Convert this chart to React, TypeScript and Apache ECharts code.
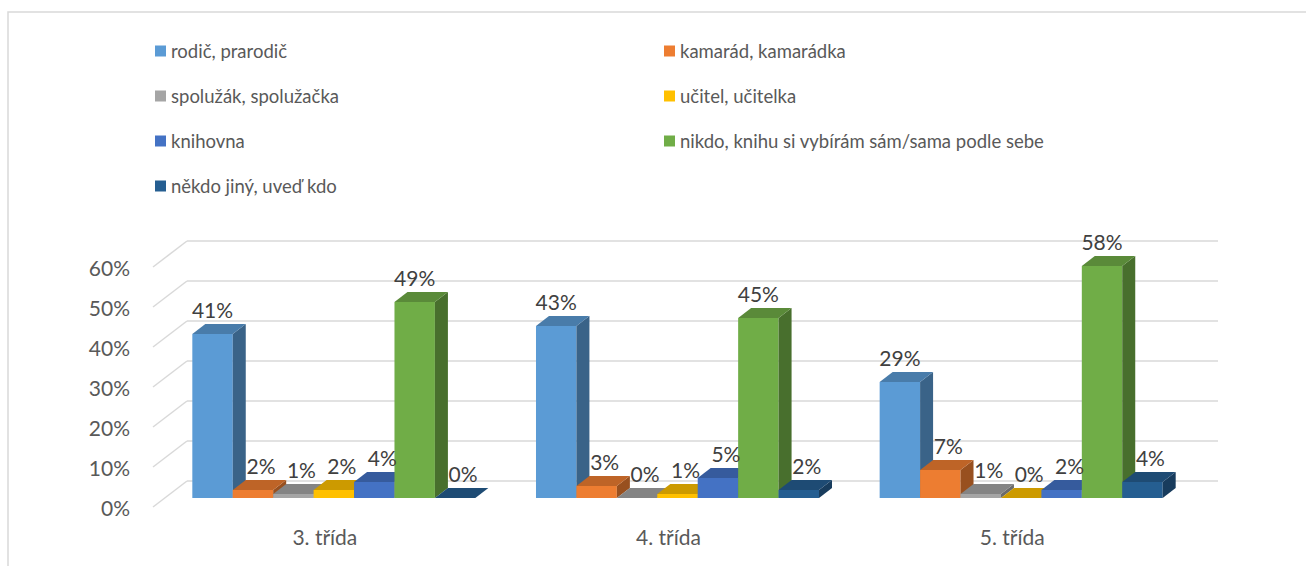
import React, { useEffect, useRef } from "react";
import * as echarts from "echarts";

const categories = ["3. třída", "4. třída", "5. třída"];
const seriesNames = [
  "rodič, prarodič",
  "kamarád, kamarádka",
  "spolužák, spolužačka",
  "učitel, učitelka",
  "knihovna",
  "nikdo, knihu si vybírám sám/sama podle sebe",
  "někdo jiný, uveď kdo",
];
const rodic = [41, 43, 29];
const kamarad = [2, 3, 7];
const spoluzak = [1, 0, 1];
const ucitel = [2, 1, 0];
const knihovna = [4, 5, 2];
const nikdo = [49, 45, 58];
const nekdo = [0, 2, 4];
const yTicks = [0, 10, 20, 30, 40, 50, 60];

const seriesValues = [rodic, kamarad, spoluzak, ucitel, knihovna, nikdo, nekdo];
const colors = ["#5B9BD5", "#ED7D31", "#A5A5A5", "#FFC000", "#4472C4", "#70AD47", "#255E91"];

const FONT = "Lato, 'Open Sans', sans-serif";
const DX = 34; // wall depth x
const DY = 26; // wall depth y
const FX = 9; // bar front face offset x
const FY = 9; // bar front face offset y
const BX = 13; // bar depth x
const BY = 10; // bar depth y
const GRID_COLOR = "#d9d9d9";

function shade(hex: string, f: number) {
  const n = parseInt(hex.slice(1), 16);
  const r = Math.round(((n >> 16) & 255) * f);
  const g = Math.round(((n >> 8) & 255) * f);
  const b = Math.round((n & 255) * f);
  return `rgb(${r},${g},${b})`;
}

export default function App() {
  const ref = useRef<HTMLDivElement>(null);

  useEffect(() => {
    if (!ref.current) return;
    const chart = echarts.init(ref.current, undefined, { renderer: "svg" });

    const wallSeries: any = {
      type: "custom",
      name: "walls",
      silent: true,
      z: 1,
      data: yTicks.map((v) => [0, v]),
      renderItem: (params: any, api: any) => {
        const v = api.value(1);
        const p = api.coord([0, v]);
        const cs = params.coordSys;
        const y = p[1];
        return {
          type: "group",
          children: [
            {
              type: "line",
              shape: { x1: cs.x, y1: y, x2: cs.x + DX, y2: y - DY },
              style: { stroke: GRID_COLOR, lineWidth: 1.5 },
            },
            {
              type: "line",
              shape: { x1: cs.x + DX, y1: y - DY, x2: cs.x + cs.width + DX, y2: y - DY },
              style: { stroke: GRID_COLOR, lineWidth: 1.5 },
            },
          ],
        };
      },
    };

    const barSeries = seriesNames.map((name, s) => ({
      type: "custom",
      name,
      z: 2,
      itemStyle: { color: colors[s] },
      data: seriesValues[s].map((v, i) => [i, v]),
      renderItem: (params: any, api: any) => {
        const cat = api.value(0);
        const v = api.value(1);
        const base = api.coord([cat, 0]);
        const topP = api.coord([cat, v]);
        const band = api.size([1, 0])[0];
        const w = band / 8.5;
        const x0 = base[0] - 3.5 * w + s * w + FX;
        const x1 = x0 + w;
        const yb = base[1] - FY;
        const yt = topP[1] - FY;
        const c = colors[s];
        return {
          type: "group",
          children: [
            {
              type: "rect",
              shape: { x: x0, y: yt, width: w, height: Math.max(0, yb - yt) },
              style: { fill: c },
            },
            {
              type: "polygon",
              shape: {
                points: [
                  [x1, yt],
                  [x1 + BX, yt - BY],
                  [x1 + BX, yb - BY],
                  [x1, yb],
                ],
              },
              style: { fill: shade(c, 0.64) },
            },
            {
              type: "polygon",
              shape: {
                points: [
                  [x0, yt],
                  [x1, yt],
                  [x1 + BX, yt - BY],
                  [x0 + BX, yt - BY],
                ],
              },
              style: { fill: shade(c, 0.8) },
            },
            {
              type: "text",
              z2: 100,
              style: {
                text: `${v}%`,
                x: x0 + w / 2 + (v < 20 ? 8 : 0),
                y: yt - 25,
                align: "center",
                verticalAlign: "middle",
                fill: "#404040",
                font: `21px ${FONT}`,
              },
            },
          ],
        };
      },
    }));

    const legendCommon = {
      orient: "vertical",
      icon: "rect",
      itemWidth: 11,
      itemHeight: 11,
      itemGap: 23,
      padding: 0,
      selectedMode: false,
      textStyle: { color: "#595959", fontSize: 18.5, fontFamily: FONT, lineHeight: 22 },
      top: 40,
    };

    chart.setOption({
      animation: false,
      backgroundColor: "#ffffff",
      graphic: [
        {
          type: "rect",
          shape: { x: 8, y: 12, width: 1320, height: 600 },
          style: { fill: "none", stroke: GRID_COLOR, lineWidth: 1.5 },
          silent: true,
        },
      ],
      legend: [
        { ...legendCommon, left: 155, data: [seriesNames[0], seriesNames[2], seriesNames[4], seriesNames[6]] },
        { ...legendCommon, left: 664, data: [seriesNames[1], seriesNames[3], seriesNames[5]] },
      ],
      grid: { left: 153, right: 122, top: 267, bottom: 59 },
      xAxis: {
        type: "category",
        data: categories,
        axisLine: { show: false },
        axisTick: { show: false },
        axisLabel: { color: "#595959", fontSize: 21, fontFamily: FONT, margin: 19 },
        splitLine: { show: false },
      },
      yAxis: {
        type: "value",
        min: 0,
        max: 60,
        interval: 10,
        axisLine: { show: false },
        axisTick: { show: false },
        splitLine: { show: false },
        axisLabel: { color: "#595959", fontSize: 21, fontFamily: FONT, margin: 23, formatter: "{value}%" },
      },
      series: [wallSeries, ...barSeries],
    });

    return () => chart.dispose();
  }, []);

  return (
    <div
      ref={ref}
      style={{ position: "fixed", left: 0, top: 0, width: 1306, height: 566, background: "#fff" }}
    />
  );
}
